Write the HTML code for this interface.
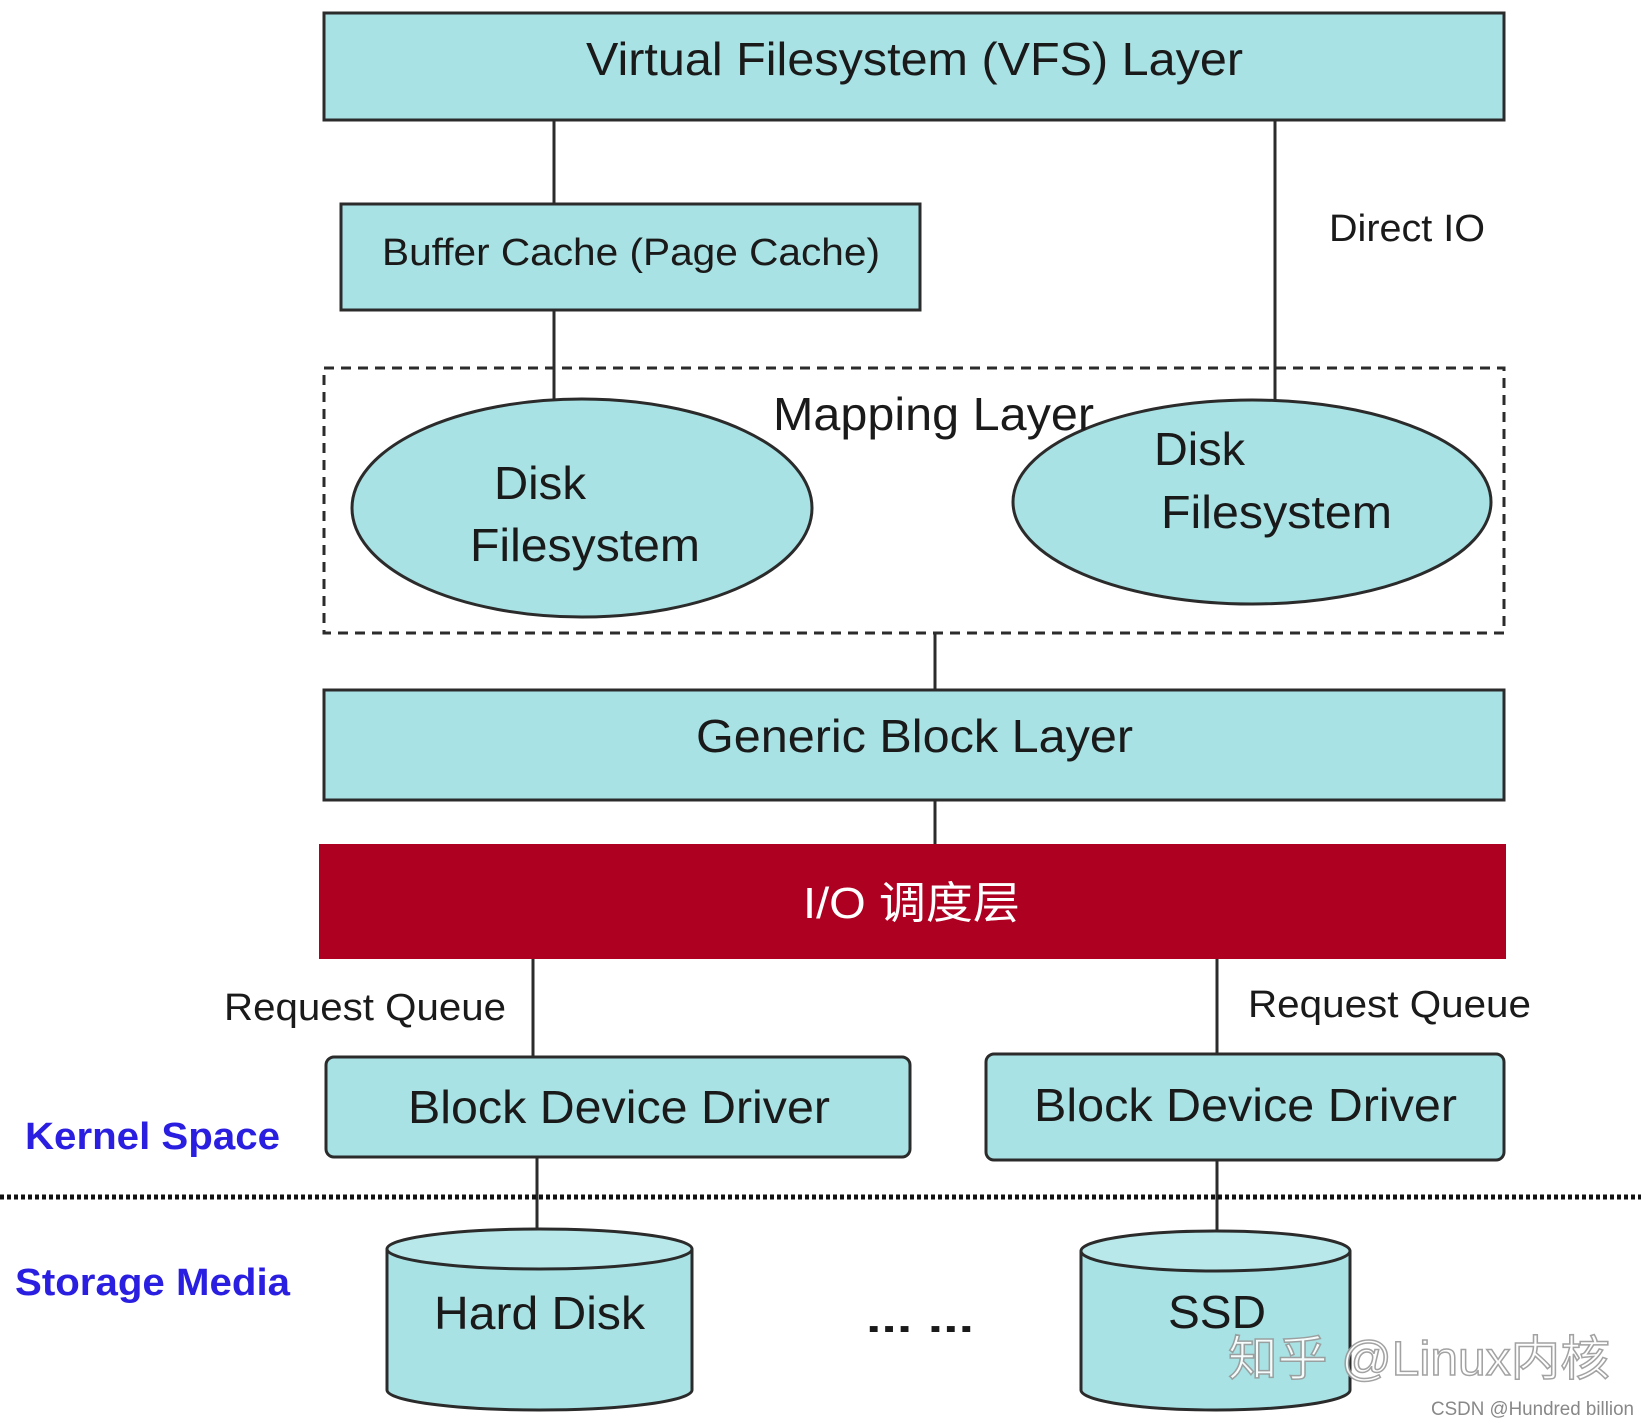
<!DOCTYPE html>
<html><head><meta charset="utf-8"><style>
html,body{margin:0;padding:0;background:#fff;}
svg{display:block;}
text{font-family:"Liberation Sans","Noto Sans CJK SC",sans-serif;fill:#1a1a1a;}
</style></head><body>
<svg width="1649" height="1423" viewBox="0 0 1649 1423" xmlns="http://www.w3.org/2000/svg">
<g stroke="#2b2b2b" stroke-width="3" fill="none">
<line x1="554" y1="120" x2="554" y2="204"/>
<line x1="554" y1="310" x2="554" y2="400"/>
<line x1="1275" y1="120" x2="1275" y2="400"/>
<line x1="935" y1="633" x2="935" y2="690"/>
<line x1="935" y1="800" x2="935" y2="844"/>
<line x1="533" y1="959" x2="533" y2="1057"/>
<line x1="1217" y1="959" x2="1217" y2="1054"/>
<line x1="537" y1="1157" x2="537" y2="1229"/>
<line x1="1217" y1="1160" x2="1217" y2="1231"/>
</g>
<g fill="#a8e2e4" stroke="#2b2b2b" stroke-width="3">
<rect x="324" y="13" width="1180" height="107"/>
<rect x="341" y="204" width="579" height="106"/>
<ellipse cx="582" cy="508" rx="230" ry="109"/>
<ellipse cx="1252" cy="502" rx="239" ry="102"/>
<rect x="324" y="690" width="1180" height="110"/>
<rect x="326" y="1057" width="584" height="100" rx="8"/>
<rect x="986" y="1054" width="518" height="106" rx="8"/>
</g>
<rect x="324" y="368" width="1180" height="265" fill="none" stroke="#2b2b2b" stroke-width="3" stroke-dasharray="10,7"/>
<rect x="319" y="844" width="1187" height="115" fill="#ae0020"/>
<line x1="0" y1="1197" x2="1641" y2="1197" stroke="#111" stroke-width="5" stroke-dasharray="4,3"/>
<g fill="#a8e2e4" stroke="#2b2b2b" stroke-width="3">
<path d="M387 1249 L387 1390 A152.5 20 0 0 0 692 1390 L692 1249"/>
<ellipse cx="539.5" cy="1249" rx="152.5" ry="20" fill="#b8e8ea"/>
<path d="M1081 1251 L1081 1390 A134.5 20 0 0 0 1350 1390 L1350 1251"/>
<ellipse cx="1215.5" cy="1251" rx="134.5" ry="20" fill="#b8e8ea"/>
</g>
<text x="586" y="75" font-size="46" textLength="657" lengthAdjust="spacingAndGlyphs">Virtual Filesystem (VFS) Layer</text>
<text x="382" y="265" font-size="38" textLength="498" lengthAdjust="spacingAndGlyphs">Buffer Cache (Page Cache)</text>
<text x="1329" y="241" font-size="38" textLength="156" lengthAdjust="spacingAndGlyphs">Direct IO</text>
<text x="773" y="430" font-size="46" textLength="321" lengthAdjust="spacingAndGlyphs">Mapping Layer</text>
<text x="494" y="499" font-size="46" textLength="92" lengthAdjust="spacingAndGlyphs">Disk</text>
<text x="470" y="561" font-size="46" textLength="230" lengthAdjust="spacingAndGlyphs">Filesystem</text>
<text x="1154" y="465" font-size="46" textLength="91" lengthAdjust="spacingAndGlyphs">Disk</text>
<text x="1161" y="528" font-size="46" textLength="231" lengthAdjust="spacingAndGlyphs">Filesystem</text>
<text x="696" y="752" font-size="46" textLength="437" lengthAdjust="spacingAndGlyphs">Generic Block Layer</text>
<text x="803" y="918" font-size="44" textLength="217" lengthAdjust="spacingAndGlyphs" style="fill:#fff">I/O 调度层</text>
<text x="224" y="1020" font-size="38" textLength="282" lengthAdjust="spacingAndGlyphs">Request Queue</text>
<text x="1248" y="1017" font-size="38" textLength="283" lengthAdjust="spacingAndGlyphs">Request Queue</text>
<text x="408" y="1123" font-size="46" textLength="422" lengthAdjust="spacingAndGlyphs">Block Device Driver</text>
<text x="1034" y="1121" font-size="46" textLength="423" lengthAdjust="spacingAndGlyphs">Block Device Driver</text>
<text x="25" y="1149" font-size="38" font-weight="bold" textLength="255" lengthAdjust="spacingAndGlyphs" style="fill:#2a1fe0">Kernel Space</text>
<text x="15" y="1295" font-size="38" font-weight="bold" textLength="275" lengthAdjust="spacingAndGlyphs" style="fill:#2a1fe0">Storage Media</text>
<text x="434" y="1329" font-size="46" textLength="211" lengthAdjust="spacingAndGlyphs">Hard Disk</text>
<text x="1168" y="1328" font-size="46" textLength="98" lengthAdjust="spacingAndGlyphs">SSD</text>
<text x="866" y="1332" font-size="40" font-weight="bold" textLength="108" lengthAdjust="spacingAndGlyphs">... ...</text>
<text x="1228" y="1375" font-size="48" textLength="382" lengthAdjust="spacingAndGlyphs" style="fill:#fff;stroke:#999;stroke-width:1.5;opacity:0.9">知乎 @Linux内核</text>
<text x="1431" y="1415" font-size="19" textLength="203" lengthAdjust="spacingAndGlyphs" style="fill:#888">CSDN @Hundred billion</text>
</svg>
</body></html>
